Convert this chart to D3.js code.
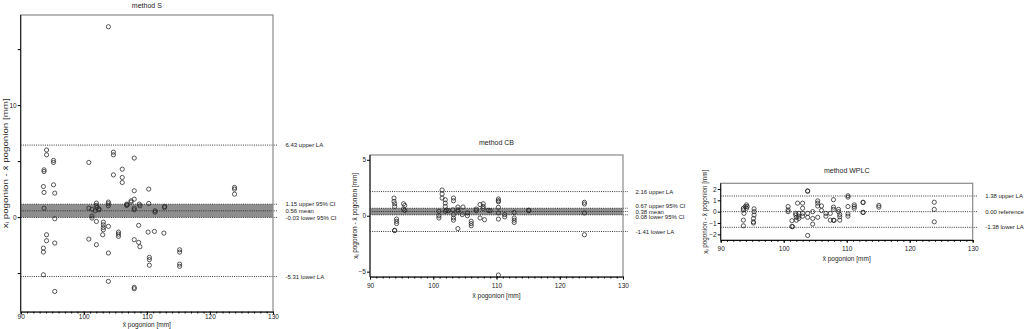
<!DOCTYPE html>
<html>
<head>
<meta charset="utf-8">
<script src="https://cdn.jsdelivr.net/npm/d3@7"></script>
<style>
  body { margin: 0; background: #fff; }
  svg { display: block; font-family: "Liberation Sans", Arial, sans-serif; }
</style>
</head>
<body>
<div id="container"></div>
<script>
// method S : [x mean, difference]
var sPoints = [
  [93.7, 4.22], [93.7, 4.07], [93.6, 2.73], [93.7, 2.2], [93.7, 0.8], [93.6, -2.77], [93.6, -3.12], [93.6, -5.15],
  [94.1, 5.99], [94.1, 5.56], [94.1, -1.58], [94.1, -2.11],
  [95.2, 5.06], [95.2, 4.88], [95.2, 2.88],
  [95.4, 2.14], [95.4, -0.15], [95.4, -2.32], [95.4, -6.64],
  [100.8, 4.88], [100.8, 0.8], [100.8, -1.97],
  [101.3, 0.7], [101.3, 0.09], [101.3, -0.09],
  [102.0, 1.25], [102.0, 1.04], [102.1, 0.86], [102.0, -0.39], [102.0, -2.47], [101.8, 0.56],
  [102.4, 0.74], [102.4, 0.65],
  [103.1, -0.45], [103.1, -0.69], [103.1, -0.93], [103.1, -1.13], [103.0, -1.58],
  [103.9, 17.0], [103.9, 1.34], [103.9, 1.19], [103.9, 1.01], [103.9, -0.83], [103.9, -3.21], [103.9, -5.74],
  [104.7, 5.8], [104.7, 5.56], [104.7, 3.77],
  [105.5, -1.34], [105.5, -1.52], [105.5, -1.72],
  [106.1, 4.28], [106.1, 3.54], [106.1, 3.09],
  [106.8, 1.16], [106.8, 1.04], [106.9, 1.1],
  [107.5, 1.34], [107.5, 1.45],
  [108.0, 5.27], [108.0, 2.35], [108.0, 1.6], [108.0, 0.8], [108.0, 0.65], [108.0, -2.02], [108.0, -6.28], [108.0, -6.4],
  [108.8, 1.16], [108.9, 1.01], [108.7, -0.74], [108.7, -2.26], [108.9, -2.65],
  [110.3, 2.5], [110.3, 1.22], [110.2, -1.34], [110.4, -3.6], [110.4, -3.8], [110.4, -4.3],
  [111.3, 0.56], [111.3, 0.44], [111.2, -1.28],
  [112.8, 0.95], [112.8, 0.86], [112.7, -1.43],
  [115.2, -2.92], [115.2, -3.13], [115.2, -4.2], [115.2, -4.4],
  [123.9, 2.65], [123.9, 2.5], [123.9, 2.05]
];
var sRefValues = [6.43, 1.15, 0.56, -0.03, -5.31];
var sRefNames = ["upper LA", "upper 95% CI", "mean", "lower 95% CI", "lower LA"];

// method CB
var cbPoints = [
  [93.8, 1.58], [93.8, 1.28], [93.9, 1.07], [93.9, 0.83], [93.9, -1.3], [93.9, -1.33],
  [94.2, -0.3], [94.2, -0.5], [94.2, -0.7],
  [95.3, 1.07], [95.5, 0.92], [95.3, 0.6], [95.5, 0.48],
  [100.9, 0.4], [100.9, 0.0], [100.9, -0.2],
  [101.4, 2.3], [101.4, 1.95], [101.4, 1.58],
  [101.9, 1.43], [101.9, 1.13], [101.9, 0.83], [101.9, 0.4], [102.1, 0.5],
  [102.4, 0.45],
  [103.2, 1.58], [103.2, 1.34], [103.2, 0.1], [103.2, -0.2], [103.2, -0.4], [103.1, 0.53],
  [103.9, 0.78], [103.9, 0.53], [103.9, 0.4], [103.9, -1.15],
  [104.7, 0.78], [104.6, 0.1],
  [105.4, 0.25], [105.4, 0.0],
  [106.0, -0.5], [106.0, -0.7], [106.0, -0.9],
  [106.8, 0.6], [106.8, 0.45],
  [107.4, 1.0], [107.4, -0.2],
  [107.9, 1.07], [107.9, 0.83], [107.9, 0.65], [108.1, -0.35],
  [108.7, 0.48], [109.0, 0.45],
  [110.3, 1.5], [110.3, 1.35], [110.3, 1.25], [110.3, 0.75], [110.3, 0.25], [110.3, -0.3], [110.3, -5.3],
  [111.3, 0.1], [111.3, -0.1],
  [112.8, 0.3], [112.8, -0.2], [112.8, -0.4], [112.8, -0.6],
  [115.1, 0.45], [115.1, 0.5],
  [123.9, 1.2], [123.9, 1.05], [123.9, 0.25], [123.9, -1.7]
];
var cbRefValues = [2.16, 0.67, 0.38, 0.08, -1.41];
var cbRefNames = ["upper LA", "upper 95% CI", "mean", "lower 95% CI", "lower LA"];

// method WPLC
var wplcPoints = [
  [93.6, 0.3], [93.6, 0.15], [93.9, 0.45], [93.7, -0.15], [93.6, -0.75], [93.6, -1.25],
  [94.1, 0.6], [94.2, 0.45], [94.1, 0.3],
  [95.3, 0.25], [95.3, 0.0], [95.3, -0.3], [95.2, -0.6], [95.2, -0.9], [95.2, -1.0],
  [100.7, 0.45], [100.7, 0.15], [100.7, 0.0],
  [101.3, -0.8], [101.3, -1.3], [101.4, -1.33],
  [101.9, -0.15], [101.9, -0.3], [102.0, -0.5], [102.0, -0.75],
  [102.2, 0.75],
  [102.4, -0.15], [102.4, -0.4], [102.4, -0.6],
  [103.0, 0.75], [103.0, 0.3], [103.0, -0.15], [103.0, -0.4],
  [103.8, 1.83], [103.8, 1.8], [103.8, -0.15], [103.8, -0.5], [103.8, -2.1],
  [104.6, 0.0], [104.6, -0.6], [104.6, -1.1],
  [105.4, 0.95], [105.4, 0.75], [105.4, 0.5], [105.4, -0.5],
  [106.0, 0.5], [106.0, 0.1],
  [106.7, -0.15], [106.7, -0.4],
  [107.4, -0.15], [107.4, -0.75],
  [107.9, 1.05], [107.9, 0.4], [107.9, 0.2], [107.9, -0.75], [108.0, -0.78],
  [108.7, 0.2], [108.7, 0.0], [108.9, -0.25], [108.9, -0.45], [108.9, -0.75],
  [110.2, 1.4], [110.2, 1.28], [110.2, 0.45], [110.2, -0.2], [110.2, -0.4],
  [111.2, 0.6], [111.2, 0.45], [111.2, 0.3],
  [112.6, 0.83], [112.6, 0.8], [112.6, -0.05], [112.6, -0.08],
  [115.1, 0.55], [115.1, 0.4],
  [123.9, 0.83], [123.9, 0.2], [123.9, -0.9]
];
var wplcRefValues = [1.38, 0.00, -1.38];
var wplcRefNames = ["upper LA", "reference", "lower LA"];

var xDomain = [90, 130];
var xTicks = [90, 100, 110, 120, 130];

var panels = [
  { title: "method S", points: sPoints, refs: sRefValues, names: sRefNames, band: [sRefValues[3], sRefValues[1]],
    yDomain: [-8.45, 18.05], yTicks: [0, 10], yMinor: [-5, 5, 15],
    left: 20.7, right: 273, top: 15, bottom: 311.7, titleY: 7.5, tickLabY: 316.5, xTitleY: 324.5, yTitleX: 6, yTitleLen: 130 },
  { title: "method CB", points: cbPoints, refs: cbRefValues, names: cbRefNames, band: [cbRefValues[3], cbRefValues[1]],
    yDomain: [-5.45, 5.43], yTicks: [-5, 0, 5], yMinor: [],
    left: 370, right: 623, top: 155, bottom: 276.7, titleY: 144.5, tickLabY: 285.5, xTitleY: 295.5, yTitleX: 355.5, yTitleLen: 86 },
  { title: "method WPLC", points: wplcPoints, refs: wplcRefValues, names: wplcRefNames, band: null,
    yDomain: [-2.5, 2.5], yTicks: [-2, -1, 0, 1, 2], yMinor: [],
    left: 720.7, right: 972.7, top: 183.3, bottom: 240, titleY: 173, tickLabY: 248.5, xTitleY: 258.5, yTitleX: 705.5, yTitleLen: 84 }
];

var svg = d3.select("#container").append("svg")
    .attr("width", 1026)
    .attr("height", 329);

panels.forEach(function(p) {
  var x = d3.scaleLinear().domain(xDomain).range([p.left, p.right]);
  var y = d3.scaleLinear().domain(p.yDomain).range([p.bottom, p.top]);
  var g = svg.append("g");

  // CI band
  if (p.band) {
    g.append("rect")
      .attr("x", p.left)
      .attr("width", p.right - p.left)
      .attr("y", y(p.band[1]))
      .attr("height", y(p.band[0]) - y(p.band[1]))
      .attr("fill", "#8e8e8e");
  }

  // reference lines, running just past the frame
  g.selectAll(".ref").data(p.refs).enter().append("line")
    .attr("x1", p.left).attr("x2", p.right + 5)
    .attr("y1", function(d) { return y(d); })
    .attr("y2", function(d) { return y(d); })
    .attr("stroke", "#222")
    .attr("stroke-width", 0.9)
    .attr("stroke-dasharray", "1,1.2");

  // label positions, spread so they don't collide
  var ly = p.refs.map(function(d) { return y(d); });
  var gap = 5.2;
  for (var k = 0; k < 6; k++) {
    for (var i = 1; i < ly.length; i++) {
      if (ly[i] - ly[i - 1] < gap) {
        var m = (ly[i] + ly[i - 1]) / 2;
        ly[i - 1] = m - gap / 2; ly[i] = m + gap / 2;
      }
    }
  }
  g.selectAll(".lab").data(p.refs).enter().append("text")
    .attr("x", p.right + 12.5)
    .attr("y", function(d, i) { return ly[i]; })
    .attr("dy", "0.35em")
    .attr("font-size", 6)
    .attr("fill", "#222")
    .text(function(d, i) { return d.toFixed(2) + " " + p.names[i]; });

  // frame
  g.append("rect")
    .attr("x", p.left).attr("y", p.top)
    .attr("width", p.right - p.left).attr("height", p.bottom - p.top)
    .attr("fill", "none").attr("stroke", "#8a8a8a").attr("stroke-width", 1.2);

  // points
  g.selectAll(".pt").data(p.points).enter().append("circle")
    .attr("cx", function(d) { return x(d[0]); })
    .attr("cy", function(d) { return y(d[1]); })
    .attr("r", 2.1)
    .attr("fill", "none")
    .attr("stroke", "#222")
    .attr("stroke-width", 0.75);

  // x axis
  var xAxis = d3.axisBottom(x).tickValues(xTicks).tickSize(3).tickFormat(d3.format("d"));
  var xMinor = d3.axisBottom(x).tickValues(d3.range(90, 131, 1)).tickSize(1.8).tickFormat("");
  var gx = g.append("g").attr("transform", "translate(0," + p.bottom + ")");
  gx.call(xMinor);
  var gxm = g.append("g").attr("transform", "translate(0," + p.bottom + ")").call(xAxis);
  gx.selectAll("path").attr("stroke", "#111");
  gxm.select("path").remove();
  gxm.selectAll("text").attr("font-size", 6.5)
    .attr("y", p.tickLabY - p.bottom).attr("dy", "0.35em").attr("fill", "#222");

  // y axis
  var yAxis = d3.axisLeft(y).tickValues(p.yTicks).tickSize(3).tickFormat(d3.format("d"));
  var gy = g.append("g").attr("transform", "translate(" + p.left + ",0)").call(yAxis);
  gy.select("path").attr("d", "M0," + p.top + "V" + p.bottom).attr("stroke", "#111");
  gy.selectAll("text").attr("font-size", 6.5).attr("fill", "#222").attr("x", -4);
  if (p.yMinor.length) {
    var gy2 = g.append("g").attr("transform", "translate(" + p.left + ",0)")
      .call(d3.axisLeft(y).tickValues(p.yMinor).tickSize(3).tickFormat(""));
    gy2.select("path").remove();
  }

  // titles
  g.append("text")
    .attr("x", (p.left + p.right) / 2).attr("y", p.titleY)
    .attr("text-anchor", "middle").attr("font-size", 7).attr("fill", "#222")
    .text(p.title);

  g.append("text")
    .attr("x", (p.left + p.right) / 2).attr("y", p.xTitleY)
    .attr("dy", "0.35em")
    .attr("text-anchor", "middle").attr("font-size", 6.5).attr("fill", "#222")
    .text("x\u0304 pogonion [mm]");

  var yt = g.append("text")
    .attr("transform", "translate(" + p.yTitleX + "," + ((p.top + p.bottom) / 2) + ") rotate(-90)")
    .attr("text-anchor", "middle").attr("font-size", 6.5).attr("fill", "#222")
    .attr("dy", "0.35em")
    .attr("textLength", p.yTitleLen).attr("lengthAdjust", "spacingAndGlyphs");
  yt.append("tspan").text("x");
  yt.append("tspan").attr("font-size", 4.5).attr("dy", "0.25em").text("i");
  yt.append("tspan").attr("dy", "-0.25em").text(" pogonion - x\u0304 pogonion [mm]");
});
</script>
</body>
</html>
